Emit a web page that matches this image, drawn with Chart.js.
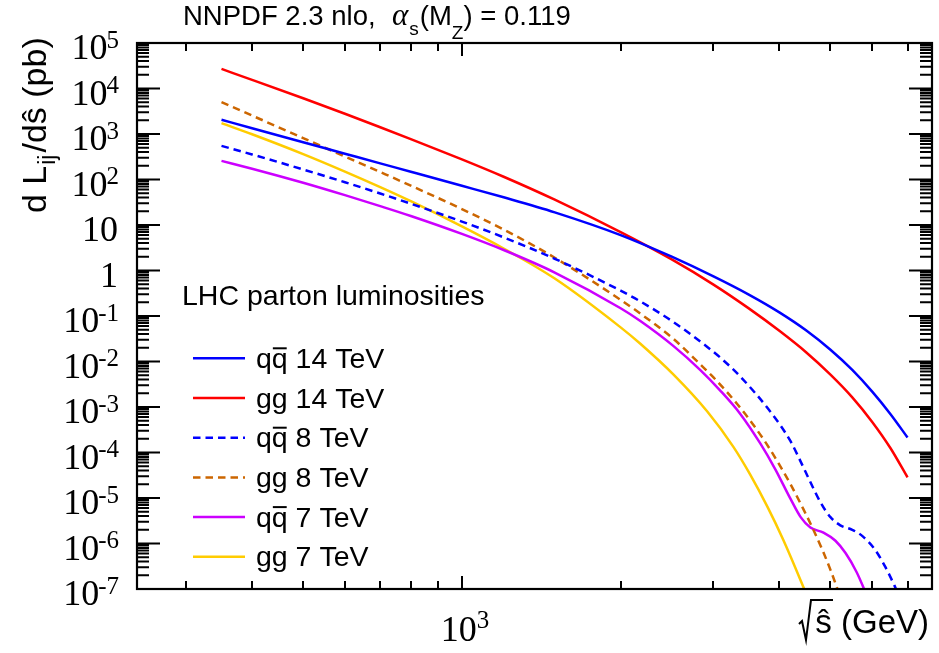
<!DOCTYPE html>
<html>
<head>
<meta charset="utf-8">
<script src="https://cdn.jsdelivr.net/npm/chart.js@4.4.0/dist/chart.umd.min.js"></script>
<style>
  html, body { margin: 0; padding: 0; background: #fff; }
  #wrap { width: 939px; height: 653px; }
</style>
</head>
<body>
<div id="wrap"><canvas id="lumi" width="939" height="653"></canvas></div>
<script>
// sqrt(s-hat) in GeV and dL/ds-hat in pb
const sGrid14 = [350, 400, 500, 600, 700, 800, 1000, 1200, 1500, 2000, 2500, 3000, 3500, 4000, 4500, 5000, 5500, 6000, 6500, 7000];
const qq14 = [2.05e3, 1.34e3, 6.59e2, 3.69e2, 2.26e2, 1.48e2, 72.8, 40.6, 19.0, 6.01, 2.01, 0.741, 0.295, 0.120, 4.79e-2, 1.81e-2, 6.52e-3, 2.18e-3, 6.95e-4, 2.14e-4];
const gg14 = [2.69e4, 1.55e4, 6.1e3, 2.79e3, 1.41e3, 7.74e2, 2.77e2, 1.15e2, 36.0, 6.98, 1.75, 0.49, 0.147, 4.72e-2, 1.58e-2, 5.15e-3, 1.63e-3, 4.70e-4, 1.24e-4, 2.84e-5];

const sQQ8 = [350, 400, 500, 600, 700, 800, 1000, 1200, 1500, 2000, 2180, 2520, 2920, 3090, 3370, 3850, 4200, 4390, 4580, 4790, 5000, 5220, 5500, 5750, 6060, 6330, 6610, 6800];
const qq8 = [5.48e2, 3.55e2, 1.66e2, 87.1, 49.2, 29.4, 11.9, 5.35, 1.81, 0.361, 0.209, 7.33e-2, 2.09e-2, 1.22e-2, 4.71e-3, 7.76e-4, 1.77e-4, 6.31e-5, 2.24e-5, 7.94e-6, 3.8e-6, 2.51e-6, 2.0e-6, 1.45e-6, 7.59e-7, 3.31e-7, 1.2e-7, 5.6e-8];

const sGG8 = [350, 400, 500, 600, 700, 800, 1000, 1200, 1500, 2000, 2180, 2520, 2830, 3000, 3330, 3600, 3850, 4200, 4440, 4620, 4830, 5000, 5130, 5300];
const gg8 = [5.0e3, 2.54e3, 8.11e2, 3.21e2, 1.46e2, 73.3, 22.4, 7.96, 1.91, 0.226, 0.113, 3.12e-2, 8.7e-3, 4.47e-3, 1.15e-3, 3.55e-4, 1.12e-4, 2.0e-5, 5.75e-6, 2.24e-6, 7.08e-7, 2.63e-7, 1.17e-7, 3.98e-8];

const sQQ7 = [350, 400, 500, 600, 700, 800, 1000, 1200, 1500, 2000, 2180, 2520, 2830, 3090, 3370, 3680, 3930, 4200, 4390, 4580, 4850, 5110, 5340, 5600, 5780, 5950];
const qq7 = [2.57e2, 1.73e2, 84.9, 45.3, 26.0, 15.8, 6.38, 2.82, 0.902, 0.148, 7.76e-2, 2.18e-2, 6.56e-3, 2.30e-3, 7.13e-4, 1.58e-4, 4.27e-5, 9.55e-6, 3.8e-6, 2.24e-6, 1.74e-6, 1.15e-6, 6.17e-7, 2.4e-7, 1.05e-7, 4.37e-8];

const sGG7 = [350, 400, 500, 600, 700, 800, 1000, 1200, 1500, 2000, 2180, 2520, 2920, 3270, 3520, 3800, 4070, 4440, 4600];
const gg7 = [1.73e3, 9.86e2, 3.61e2, 1.49e2, 67.9, 33.3, 9.31, 3.04, 0.665, 5.62e-2, 2.45e-2, 5.13e-3, 7.94e-4, 1.35e-4, 3.31e-5, 6.31e-6, 1.2e-6, 1.12e-7, 3.98e-8];

const seriesLabels = ['qq 14 TeV', 'gg 14 TeV', 'qq 8 TeV', 'gg 8 TeV', 'qq 7 TeV', 'gg 7 TeV'];

// axis ticks
const xMajorTicks = [1000];
const xMinorTicks = [300, 400, 500, 600, 700, 800, 900, 2000, 3000, 4000, 5000, 6000, 7000];
const yExponents = [5, 4, 3, 2, 1, 0, -1, -2, -3, -4, -5, -6, -7];

const toPoints = (xs, ys) => xs.map((x, i) => ({ x: x, y: ys[i] }));

const DASH = [7.5, 5];
const SANS = '"Liberation Sans"';
const SERIF = '"Liberation Serif"';

const rootStyle = {
  id: 'rootStyle',
  afterDatasetsDraw(chart) {
    const ctx = chart.ctx;
    const xs = chart.scales.x, ys = chart.scales.y;
    const a = chart.chartArea;
    ctx.save();
    ctx.setLineDash([]);
    ctx.strokeStyle = '#000';
    ctx.fillStyle = '#000';

    // ticks, ROOT style (inside, on all four sides)
    ctx.lineWidth = 2;
    ctx.beginPath();
    xMinorTicks.forEach(v => {
      const px = Math.round(xs.getPixelForValue(v));
      ctx.moveTo(px, a.bottom); ctx.lineTo(px, a.bottom - 8);
      ctx.moveTo(px, a.top); ctx.lineTo(px, a.top + 8);
    });
    xMajorTicks.forEach(v => {
      const px = Math.round(xs.getPixelForValue(v));
      ctx.moveTo(px, a.bottom); ctx.lineTo(px, a.bottom - 13);
      ctx.moveTo(px, a.top); ctx.lineTo(px, a.top + 13);
    });
    yExponents.forEach(e => {
      const py = ys.getPixelForValue(Math.pow(10, e));
      ctx.moveTo(a.left, py); ctx.lineTo(a.left + 23, py);
      ctx.moveTo(a.right, py); ctx.lineTo(a.right - 23, py);
      if (e < 5) {
        for (let k = 2; k <= 9; k++) {
          const pm = ys.getPixelForValue(k * Math.pow(10, e));
          ctx.moveTo(a.left, pm); ctx.lineTo(a.left + 12, pm);
          ctx.moveTo(a.right, pm); ctx.lineTo(a.right - 12, pm);
        }
      }
    });
    ctx.stroke();

    // frame
    ctx.lineWidth = 2.2;
    ctx.strokeRect(a.left, a.top, a.right - a.left, a.bottom - a.top);

    // y tick labels
    ctx.textAlign = 'left';
    ctx.textBaseline = 'alphabetic';
    yExponents.forEach(e => {
      const py = ys.getPixelForValue(Math.pow(10, e));
      const base = e === 0 ? '1' : '10';
      const sup = (e === 0 || e === 1) ? '' : String(e);
      ctx.font = '25px ' + SERIF;
      const ws = sup ? ctx.measureText(sup).width : 0;
      ctx.font = '36px ' + SERIF;
      const wb = ctx.measureText(base).width;
      const right = 119;
      ctx.fillText(base, right - ws - wb + (sup ? 1 : -1), py + 16);
      if (sup) {
        ctx.font = '25px ' + SERIF;
        ctx.fillText(sup, right - ws, py + 4.5);
      }
    });

    // x tick label 10^3
    xMajorTicks.forEach(v => {
      const px = xs.getPixelForValue(v);
      const sup = String(Math.round(Math.log10(v)));
      ctx.font = '36px ' + SERIF;
      const wb = ctx.measureText('10').width;
      ctx.font = '25px ' + SERIF;
      const ws = ctx.measureText(sup).width;
      const x0 = px + 3 - (wb + ws) / 2;
      ctx.font = '36px ' + SERIF;
      ctx.fillText('10', x0, 641);
      ctx.font = '25px ' + SERIF;
      ctx.fillText(sup, x0 + wb, 628);
    });

    // x axis title: sqrt(s-hat) (GeV)
    ctx.lineWidth = 2;
    ctx.beginPath();
    ctx.moveTo(799, 624); ctx.lineTo(802, 621);
    ctx.lineTo(806, 640); ctx.lineTo(811, 600); ctx.lineTo(833, 600);
    ctx.stroke();
    ctx.font = '33px ' + SANS;
    ctx.textAlign = 'right';
    ctx.fillText('ŝ (GeV)', 929, 633);
    ctx.textAlign = 'left';

    // y axis title
    ctx.save();
    ctx.translate(46, 213);
    ctx.rotate(-Math.PI / 2);
    let tx = 0;
    ctx.font = '34px ' + SANS;
    ctx.fillText('d L', tx, 0);
    tx += ctx.measureText('d L').width;
    ctx.font = '23px ' + SANS;
    ctx.fillText('ij', tx + 1, 9);
    tx += ctx.measureText('ij').width + 3;
    ctx.font = '34px ' + SANS;
    ctx.fillText('/dŝ (pb)', tx, 0);
    ctx.restore();

    // title
    ctx.font = '27.5px ' + SANS;
    ctx.fillText('NNPDF 2.3 nlo,', 183, 25);
    ctx.font = 'italic 31px ' + SERIF;
    ctx.fillText('α', 392, 25);
    let hx = 392 + ctx.measureText('α').width + 1;
    ctx.font = '19px ' + SANS;
    ctx.fillText('s', hx, 35);
    hx += ctx.measureText('s').width + 1;
    ctx.font = '27.5px ' + SANS;
    ctx.fillText('(M', hx, 25);
    hx += ctx.measureText('(M').width;
    ctx.font = '19px ' + SANS;
    ctx.fillText('Z', hx, 39);
    hx += ctx.measureText('Z').width;
    ctx.font = '27.5px ' + SANS;
    ctx.fillText(') = 0.119', hx, 25);

    // legend
    ctx.font = '28.5px ' + SANS;
    ctx.fillText('LHC parton luminosities', 182, 305);
    chart.data.datasets.forEach((ds, i) => {
      const ly = 358.3 + i * 39.7;
      ctx.strokeStyle = ds.borderColor;
      ctx.lineWidth = ds.borderWidth;
      ctx.setLineDash(ds.borderDash || []);
      ctx.beginPath();
      ctx.moveTo(193, ly); ctx.lineTo(245, ly);
      ctx.stroke();
      ctx.setLineDash([]);
      ctx.fillStyle = '#000';
      ctx.strokeStyle = '#000';
      ctx.font = '28.5px ' + SANS;
      ctx.fillText(ds.label, 256, ly + 9.5);
      if (ds.label.startsWith('qq')) {
        const wq = ctx.measureText('q').width;
        ctx.lineWidth = 2;
        ctx.beginPath();
        ctx.moveTo(256 + wq + 1, ly - 10);
        ctx.lineTo(256 + 2 * wq - 1, ly - 10);
        ctx.stroke();
      }
    });
    ctx.restore();
  }
};

new Chart(document.getElementById('lumi'), {
  type: 'line',
  data: {
    datasets: [
      { label: seriesLabels[0], data: toPoints(sGrid14, qq14), borderColor: '#0000ff', borderWidth: 2.5 },
      { label: seriesLabels[1], data: toPoints(sGrid14, gg14), borderColor: '#ff0000', borderWidth: 2.5 },
      { label: seriesLabels[2], data: toPoints(sQQ8, qq8), borderColor: '#0000ff', borderWidth: 2.5, borderDash: DASH },
      { label: seriesLabels[3], data: toPoints(sGG8, gg8), borderColor: '#cc6600', borderWidth: 2.5, borderDash: DASH },
      { label: seriesLabels[4], data: toPoints(sQQ7, qq7), borderColor: '#cc00ff', borderWidth: 2.5 },
      { label: seriesLabels[5], data: toPoints(sGG7, gg7), borderColor: '#ffcc00', borderWidth: 2.5 }
    ]
  },
  options: {
    responsive: false,
    animation: false,
    devicePixelRatio: 1,
    layout: { padding: { left: 137, right: 7, top: 43, bottom: 64 } },
    plugins: { legend: { display: false }, tooltip: { enabled: false } },
    elements: {
      point: { radius: 0, hoverRadius: 0 },
      line: { cubicInterpolationMode: 'monotone', fill: false }
    },
    scales: {
      x: { type: 'logarithmic', min: 242, max: 7790, display: false },
      y: { type: 'logarithmic', min: 1e-7, max: 1e5, display: false }
    }
  },
  plugins: [rootStyle]
});
</script>
</body>
</html>
